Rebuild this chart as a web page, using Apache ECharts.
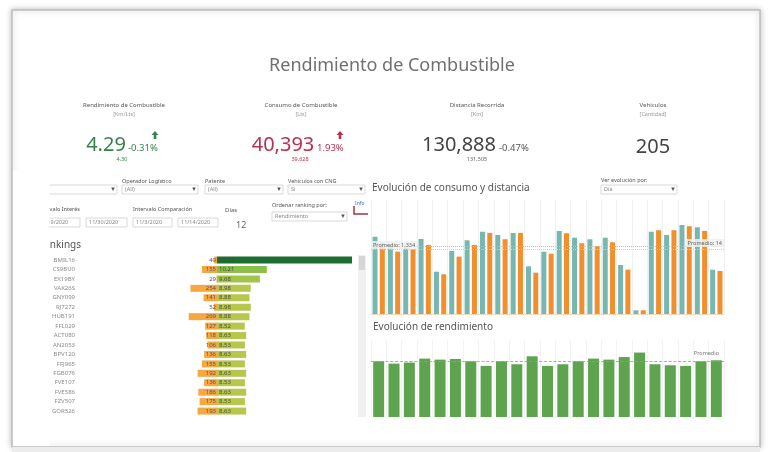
<!DOCTYPE html>
<html>
<head>
<meta charset="utf-8">
<script src="https://cdn.jsdelivr.net/npm/echarts@6/dist/echarts.min.js"></script>
<style>
  html, body { margin: 0; padding: 0; background: #fff; }
  #main { width: 771px; height: 452px; }
</style>
</head>
<body>
<div id="main"></div>
<script>
// datos del tablero
const dias = ['11/1', '11/2', '11/3', '11/4', '11/5', '11/6', '11/7', '11/8', '11/9', '11/10', '11/11', '11/12',
  '11/13', '11/14', '11/15', '11/16', '11/17', '11/18', '11/19', '11/20', '11/21', '11/22', '11/23'];
const consumoDia = [1519, 1342, 1303, 1474, 831, 1238, 1448, 1617, 1552, 1592, 937, 1224,
  1631, 1499, 1468, 1499, 963, 73, 1617, 1552, 1749, 1704, 870];
const distanciaDia = [6207, 5470, 5681, 6058, 3486, 5031, 6058, 7112, 6559, 7112, 3626, 5294,
  7085, 6207, 5944, 6295, 3890, 325, 7349, 7349, 7700, 7287, 3775];
const rendimientoDia = [4.34, 4.16, 4.24, 4.55, 4.47, 4.52, 4.34, 3.98, 4.34, 4.11, 4.73, 3.98,
  4.11, 4.34, 4.55, 4.47, 4.67, 5.02, 4.11, 4.03, 3.98, 4.34, 4.42];
const promedioLabels = ['Promedio: 1,334', 'Promedio: 14', 'Promedio'];

const patentes = ['BMIL16', 'CS9BU0', 'EX19BY', 'VAK26S', 'GNY099', 'RJ7272', 'HUB191', 'FFL029', 'ACT080',
  'AN2053', 'BPV120', 'FFJ965', 'FGB076', 'FVE107', 'FVE586', 'FZV507', 'GOR526'];
const rankRendimiento = [16.72, 10.21, 9.68, 8.98, 8.88, 8.98, 8.88, 8.52, 8.63, 8.53, 8.63, 8.53, 8.63, 8.53, 8.63, 8.53, 8.63];
const rankConsumo = [49, 155, 29, 254, 141, 52, 269, 127, 118, 106, 136, 155, 192, 136, 186, 175, 193];

const FONT = '"Noto Sans", sans-serif';
const teal = '#76b7b2', naranja = '#f28e2b', verde = '#5ea34e';

function txt(x, y, text, size, color, align, extra) {
  return Object.assign({
    type: 'text', x: x, y: y, z: 10,
    style: { text: text, fill: color || '#666', font: (size || 6) + 'px ' + FONT,
      textAlign: align || 'left', textVerticalAlign: 'middle' }
  }, extra || {});
}
function caja(x, y, w, h, text, flecha) {
  const els = [{ type: 'rect', z: 10, shape: { x: x, y: y, width: w, height: h },
    style: { fill: '#fff', stroke: '#cfcfcf', lineWidth: 0.8 } }];
  els.push(txt(x + 3, y + h / 2, text, 5.5, '#888'));
  if (flecha) els.push(txt(x + w - 4, y + h / 2, '▾', 6, '#555', 'center', { style: {
    text: '▾', fill: '#555', font: '7px "DejaVu Sans"', textAlign: 'center', textVerticalAlign: 'middle' } }));
  return els;
}
function flechaArriba(cx, top, color) {
  return { type: 'polygon', z: 10, shape: { points: [[cx, top], [cx + 3.5, top + 4], [cx + 1.3, top + 4],
    [cx + 1.3, top + 8], [cx - 1.3, top + 8], [cx - 1.3, top + 4], [cx - 3.5, top + 4]] },
    style: { fill: color } };
}
function colorRend(v) {
  if (v > 15) return '#1d6e31';
  if (v > 10) return '#8bbf49';
  if (v > 9.2) return '#a2c44b';
  return '#b7c64d';
}

const graficos = [
  // tarjeta
  { type: 'rect', z: 0, shape: { x: 12, y: 10, width: 748, height: 437 },
    style: { fill: '#fff', stroke: '#bdbdbd', lineWidth: 1.5, shadowBlur: 6, shadowColor: 'rgba(0,0,0,0.25)' } },
  { type: 'rect', z: 0, shape: { x: 12, y: 447, width: 748, height: 5 }, style: { fill: '#ececec' } },
  txt(392, 66, 'Rendimiento de Combustible', 18, '#707070', 'center'),

  // KPIs
  txt(124, 105, 'Rendimiento de Combustible', 6, '#555', 'center'),
  txt(124, 114, '[Km/Lts]', 5.5, '#999', 'center'),
  txt(106, 145, '4.29', 20, '#36834a', 'center'),
  txt(128, 148, '-0.31%', 9.5, '#36834a'),
  flechaArriba(155, 131, '#36834a'),
  txt(122, 159, '4.30', 5.5, '#36834a', 'center'),

  txt(301, 105, 'Consumo de Combustible', 6, '#555', 'center'),
  txt(301, 114, '[Lts]', 5.5, '#999', 'center'),
  txt(283, 145, '40,393', 20, '#b8304f', 'center'),
  txt(317, 148, '1.93%', 9.5, '#b8304f'),
  flechaArriba(340, 131, '#b8304f'),
  txt(300, 159, '39,628', 5.5, '#b8304f', 'center'),

  txt(477, 105, 'Distancia Recorrida', 6, '#555', 'center'),
  txt(477, 114, '[Km]', 5.5, '#999', 'center'),
  txt(459, 145, '130,888', 20, '#444', 'center'),
  txt(499, 148, '-0.47%', 9.5, '#555'),
  txt(477, 159, '131,505', 5.5, '#666', 'center'),

  txt(653, 105, 'Vehiculos', 6, '#555', 'center'),
  txt(653, 114, '[Cantidad]', 5.5, '#999', 'center'),
  txt(653, 147, '205', 20, '#444', 'center'),

  // filtros
  txt(122, 181, 'Operador Logístico', 5.5, '#555'),
  txt(205, 181, 'Patente', 5.5, '#555'),
  txt(288, 181, 'Vehiculos con CNG', 5.5, '#555'),
  txt(37, 209, 'Intervalo Interés', 5.5, '#555'),
  txt(133, 209, 'Intervalo Comparación', 5.5, '#555'),
  txt(225, 210, 'Días', 6, '#555'),
  txt(236, 225, '12', 9, '#666'),
  txt(272, 205, 'Ordenar ranking por:', 5.5, '#555'),
  txt(601, 180, 'Ver evolución por:', 5.5, '#555'),
  txt(372, 188, 'Evolución de consumo y distancia', 10, '#555'),
  txt(373, 327, 'Evolución de rendimiento', 10, '#555'),
  txt(38, 245, 'Rankings', 10, '#555'),
  txt(355, 204, 'Info', 5, '#3a6fc4'),
  { type: 'polyline', z: 10, shape: { points: [[354, 206], [354, 214], [368, 214]] },
    style: { stroke: '#a8353c', lineWidth: 1.5, fill: null } },

  // barra de desplazamiento del ranking
  { type: 'rect', z: 10, shape: { x: 358, y: 255, width: 8, height: 162 }, style: { fill: '#f1f1f1' } },
  { type: 'rect', z: 10, shape: { x: 359, y: 256, width: 6, height: 14 }, style: { fill: '#d6d6d6' } }
].concat(
  caja(30, 185, 87, 9, '(All)', true),
  caja(122, 185, 76, 9, '(All)', true),
  caja(205, 185, 78, 9, '(All)', true),
  caja(288, 185, 77, 9, 'Si', true),
  caja(36, 218, 44, 9, '11/19/2020', false),
  caja(86, 218, 41, 9, '11/30/2020', false),
  caja(133, 218, 39, 9, '11/3/2020', false),
  caja(178, 218, 40, 9, '11/14/2020', false),
  caja(272, 212, 75, 9, 'Rendimiento', true),
  caja(601, 185, 76, 9, 'Día', true),
  [
    // recorte izquierdo del tablero
    { type: 'rect', z: 50, shape: { x: 13, y: 170, width: 36.5, height: 276 }, style: { fill: '#fff' } }
  ]
);

const chart = echarts.init(document.getElementById('main'), null, { renderer: 'canvas' });
chart.setOption({
  animation: false,
  textStyle: { fontFamily: FONT },
  graphic: graficos,
  grid: [
    { left: 371, right: 47, top: 200, bottom: 138 },
    { left: 371, right: 47, top: 340, bottom: 35 },
    { left: 177, width: 40, top: 255.3, height: 160.5 },
    { left: 217, width: 140, top: 255.3, height: 160.5 }
  ],
  xAxis: [
    { type: 'category', gridIndex: 0, data: dias, axisLabel: { show: false }, axisTick: { show: false },
      axisLine: { lineStyle: { color: '#f3cfa6', type: 'dotted' } },
      splitLine: { show: true, interval: 0, lineStyle: { color: '#f0f0f0' } } },
    { type: 'category', gridIndex: 1, data: dias, axisLabel: { show: false }, axisTick: { show: false },
      axisLine: { show: false },
      splitLine: { show: true, interval: 0, lineStyle: { color: '#f3f3f3' } } },
    { type: 'value', gridIndex: 2, inverse: true, min: 25, max: 370, show: false },
    { type: 'value', gridIndex: 3, min: 6.4, max: 17.1, show: false }
  ],
  yAxis: [
    { type: 'value', gridIndex: 0, min: 0, max: 2240, show: false },
    { type: 'value', gridIndex: 0, min: 0, max: 10000, show: false },
    { type: 'value', gridIndex: 1, min: 0, max: 6, show: false },
    { type: 'category', gridIndex: 2, inverse: true, data: patentes,
      axisLine: { show: false }, axisTick: { show: false },
      axisLabel: { margin: 102, fontSize: 6, color: '#8a8a8a' } },
    { type: 'category', gridIndex: 3, inverse: true, data: patentes, show: false }
  ],
  series: [
    {
      name: 'Consumo', type: 'bar', xAxisIndex: 0, yAxisIndex: 0, data: consumoDia,
      barWidth: 5, barGap: '46%', itemStyle: { color: teal },
      markLine: { symbol: 'none', silent: true, data: [{ type: 'average' }],
        lineStyle: { type: 'dotted', color: '#9dd0cb', width: 1 },
        label: { position: 'insideStartTop', formatter: promedioLabels[0], fontSize: 5.5, color: '#666',
          backgroundColor: 'rgba(240,240,240,0.85)', padding: [1, 2], distance: [0, -3] } }
    },
    {
      name: 'Distancia', type: 'bar', xAxisIndex: 0, yAxisIndex: 1, data: distanciaDia,
      barWidth: 5, itemStyle: { color: naranja },
      markLine: { symbol: 'none', silent: true, data: [{ type: 'average' }],
        lineStyle: { type: 'dotted', color: '#f7c995', width: 1 },
        label: { position: 'insideEndTop', formatter: promedioLabels[1], fontSize: 5.5, color: '#666',
          backgroundColor: 'rgba(240,240,240,0.85)', padding: [1, 2], distance: [0, 2] } }
    },
    {
      name: 'Rendimiento', type: 'bar', xAxisIndex: 1, yAxisIndex: 2, data: rendimientoDia,
      barWidth: 11, itemStyle: { color: verde },
      markLine: { symbol: 'none', silent: true, data: [{ type: 'average' }],
        lineStyle: { type: 'dashed', color: '#9a9a9a', width: 0.8 },
        label: { position: 'insideEndTop', formatter: promedioLabels[2], fontSize: 5.5, color: '#777' } }
    },
    {
      name: 'Consumo ranking', type: 'bar', xAxisIndex: 2, yAxisIndex: 3, data: rankConsumo,
      barWidth: 7, itemStyle: { color: '#f5a742' },
      label: { show: true, position: 'insideRight', fontSize: 6, color: '#555', distance: 1 }
    },
    {
      name: 'Rendimiento ranking', type: 'bar', xAxisIndex: 3, yAxisIndex: 4, data: rankRendimiento,
      barWidth: 7, itemStyle: { color: function (p) { return colorRend(p.value); } },
      label: { show: true, position: 'insideLeft', fontSize: 6, color: '#4a4a3a', distance: 2,
        formatter: function (p) { return p.value.toFixed(2); } }
    }
  ]
});
</script>
</body>
</html>
